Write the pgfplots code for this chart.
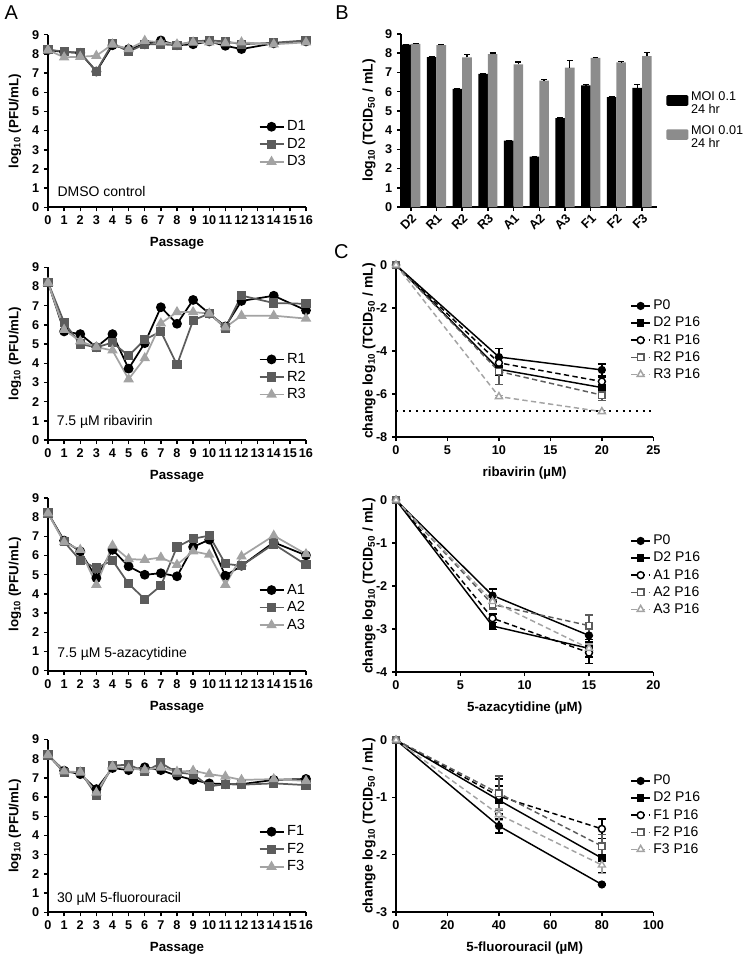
\documentclass[border=0pt]{standalone}
\usepackage{pgfplots}
\usepackage{pgfplotstable}
\pgfplotsset{compat=1.18}
\usepackage{fontspec}
\setmainfont{Liberation Sans}
\definecolor{dg}{gray}{0.36}
\definecolor{lg}{gray}{0.64}
\definecolor{bg}{gray}{0.55}

\pgfplotstableread{
x a b c
0 8.2 8.22 8.2
1 8.1 8.12 7.82
2 8.05 8.05 7.85
3 7.08 7.1 7.9
4 8.45 8.55 8.5
5 8.25 8.12 8.25
6 8.5 8.5 8.68
7 8.7 8.5 8.6
8 8.45 8.45 8.5
9 8.5 8.65 8.6
10 8.65 8.7 8.6
11 8.42 8.65 8.55
12 8.25 8.5 8.6
14 8.55 8.58 8.5
16 8.65 8.7 8.6
}\tabD
\pgfplotstableread{
x a b c
0 8.22 8.22 8.2
1 5.66 6.13 5.75
2 5.52 5.0 5.15
3 4.84 4.83 4.84
4 5.52 5.08 4.67
5 3.72 4.39 3.17
6 5.05 5.23 4.27
7 6.92 5.66 6.08
8 6.06 3.92 6.67
9 7.3 6.24 6.67
10 6.59 6.59 6.59
11 5.92 5.84 5.87
12 7.25 7.53 6.48
14 7.52 7.14 6.48
16 6.76 7.1 6.33
}\tabR
\pgfplotstableread{
x a b c
0 8.22 8.22 8.2
1 6.78 6.72 6.7
2 6.22 5.75 6.3
3 4.83 5.35 4.48
4 6.3 5.75 6.52
5 5.44 4.53 5.82
6 5.0 3.73 5.78
7 5.08 4.43 5.9
8 4.92 6.45 5.52
9 6.45 6.88 6.22
10 6.83 7.04 6.05
11 4.95 5.57 4.48
12 5.47 5.47 5.96
14 6.69 6.6 7.04
16 6.01 5.52 6.08
}\tabA
\pgfplotstableread{
x a b c
0 8.2 8.2 8.2
1 7.38 7.28 7.35
2 7.2 7.33 7.3
3 6.42 6.1 6.24
4 7.52 7.64 7.6
5 7.41 7.7 7.5
6 7.56 7.33 7.42
7 7.41 7.78 7.55
8 7.12 7.29 7.33
9 6.9 7.2 7.38
10 6.72 6.56 7.2
11 6.68 6.68 7.08
12 6.68 6.65 6.9
14 6.9 6.72 6.94
16 6.95 6.63 6.85
}\tabF
\pgfplotstableread{
i b be g ge
0 8.45 0.02 8.48 0.04
1 7.8 0.02 8.42 0.04
2 6.15 0.02 7.78 0.15
3 6.93 0.02 7.95 0.06
4 3.45 0.02 7.42 0.12
5 2.62 0.02 6.58 0.06
6 4.63 0.03 7.25 0.38
7 6.33 0.03 7.76 0.03
8 5.72 0.02 7.52 0.04
9 6.2 0.16 7.85 0.2
}\tabB

\tikzset{ann/.style={anchor=center, inner sep=0pt, font=\fontsize{10.5}{12}\selectfont}}
\pgfplotsset{
  base/.style={
    scale only axis, anchor=south west, clip=false,
    axis lines=left, axis line style={-, line width=1.3pt},
    tick align=outside, major tick length=3pt,
    tick style={black, line width=1.1pt},
    tick label style={font=\bfseries\fontsize{9.5}{10}\selectfont},
    /pgf/number format/assume math mode=true,
    label style={font=\bfseries\fontsize{10}{12}\selectfont},
    legend style={draw=none, fill=none, font=\fontsize{11}{13}\selectfont},
    legend cell align=left,
  },
  apanel/.style={base, width=193.5pt, height=129.5pt,
    xmin=0, xmax=16, ymin=0, ymax=9, xtick={0,...,16}, ytick={0,...,9},
    xlabel={Passage}, ylabel={log\textsubscript{10} (PFU/mL)},
    xlabel style={at={(axis description cs:0.5,-0.21)}, anchor=center},
    ylabel style={at={(axis description cs:-0.128,0.5)}, anchor=center},
    legend style={at={(axis description cs:0.80,0.365)}, anchor=west},
    legend image code/.code={\draw[mark repeat=2,mark phase=2,##1] plot coordinates {(0pt,0pt) (9pt,0pt) (18pt,0pt)};},
  },
  s1/.style={black, line width=1.3pt, mark=*, mark size=3pt},
  s2/.style={dg, line width=1.3pt, mark=square*, mark size=2.8pt},
  s3/.style={lg, line width=1.3pt, mark=triangle*, mark size=3.3pt},
  cpanel/.style={base, width=193pt, height=129pt,
    ylabel={change log\textsubscript{10} (TCID\textsubscript{50} / mL)},
    ylabel style={at={(axis description cs:-0.105,0.5)}, anchor=center, font=\bfseries\fontsize{10.5}{12}\selectfont},
    xlabel style={at={(axis description cs:0.5,-0.21)}, anchor=center},
    legend style={at={(axis description cs:0.895,0.563)}, anchor=west, font=\fontsize{10.5}{12}\selectfont},
    legend image code/.code={\draw[mark repeat=2,mark phase=2,##1] plot coordinates {(0pt,0pt) (7pt,0pt) (14pt,0pt)};},
  },
  cerr/.style={error bars/y dir=both, error bars/y explicit,
    error bars/error bar style={solid, line width=1.1pt},
    error bars/error mark options={rotate=90, mark size=3pt, solid, line width=1.1pt}},
  c1/.style={black, line width=1.1pt, mark=*, mark size=2.5pt, cerr},
  c2/.style={black, line width=1.1pt, mark=square*, mark size=2.3pt, cerr},
  c3/.style={black, line width=1.1pt, dash pattern=on 4pt off 2.5pt, mark=*, mark size=2.6pt, mark options={solid, fill=white}, cerr},
  c4/.style={dg, line width=1.1pt, dash pattern=on 4pt off 2.5pt, mark=square*, mark size=2.4pt, mark options={solid, fill=white}, cerr},
  c5/.style={lg, line width=1.1pt, dash pattern=on 4pt off 2.5pt, mark=triangle*, mark size=3pt, mark options={solid, fill=white}, cerr},
}

\begin{document}
\begin{tikzpicture}
\path[use as bounding box] (0,0) rectangle (562.5pt,-720pt);
\node[font=\fontsize{15}{15}\selectfont] at (8.5pt,-9.5pt) {A};
\node[font=\fontsize{15}{15}\selectfont] at (256.5pt,-9.5pt) {B};
\node[font=\fontsize{15}{15}\selectfont] at (256pt,-189pt) {C};

% A1 DMSO
\begin{axis}[apanel, at={(36pt,-155.5pt)}]
\addplot[s1] table[x=x,y=a] {\tabD}; \addlegendentry{D1}
\addplot[s2] table[x=x,y=b] {\tabD}; \addlegendentry{D2}
\addplot[s3] table[x=x,y=c] {\tabD}; \addlegendentry{D3}
\node[ann] at (axis cs:3.32,0.8) {DMSO control};
\end{axis}

% A2 ribavirin
\begin{axis}[apanel, at={(36pt,-330pt)}]
\addplot[s1] table[x=x,y=a] {\tabR}; \addlegendentry{R1}
\addplot[s2] table[x=x,y=b] {\tabR}; \addlegendentry{R2}
\addplot[s3] table[x=x,y=c] {\tabR}; \addlegendentry{R3}
\node[ann] at (axis cs:3.52,0.92) {7.5 µM ribavirin};
\end{axis}

% A3 azacytidine
\begin{axis}[apanel, at={(36pt,-503pt)}]
\addplot[s1] table[x=x,y=a] {\tabA}; \addlegendentry{A1}
\addplot[s2] table[x=x,y=b] {\tabA}; \addlegendentry{A2}
\addplot[s3] table[x=x,y=c] {\tabA}; \addlegendentry{A3}
\node[ann] at (axis cs:4.6,0.86) {7.5 µM 5-azacytidine};
\end{axis}

% A4 fluorouracil
\begin{axis}[apanel, at={(36pt,-684.2pt)}]
\addplot[s1] table[x=x,y=a] {\tabF}; \addlegendentry{F1}
\addplot[s2] table[x=x,y=b] {\tabF}; \addlegendentry{F2}
\addplot[s3] table[x=x,y=c] {\tabF}; \addlegendentry{F3}
\node[ann] at (axis cs:4.41,0.68) {30 µM 5-fluorouracil};
\end{axis}

% B bars
\begin{axis}[base, at={(300.75pt,-155.25pt)}, width=192pt, height=129.75pt,
  ybar=0pt, bar width=7.2pt, xmin=-0.38, xmax=9.58, ymin=0, ymax=9, ytick={0,...,9},
  xtick={0,...,9}, xticklabels={D2,R1,R2,R3,A1,A2,A3,F1,F2,F3},
  x tick label style={rotate=45, anchor=north east, inner sep=1pt},
  ylabel={log\textsubscript{10} (TCID\textsubscript{50} / mL)},
  ylabel style={at={(axis description cs:-0.125,0.5)}, anchor=center, font=\bfseries\fontsize{10.5}{12}\selectfont},
  legend style={at={(axis description cs:1.02,0.517)}, anchor=west, font=\fontsize{9.5}{9.8}\selectfont, row sep=8pt},
]
\addplot[fill=black, draw=none,
  legend image code/.code={\fill[black, rounded corners=1pt] (0pt,-4pt) rectangle (16.5pt,4pt);},
  error bars/y dir=plus, error bars/y explicit,
  error bars/error bar style={black, line width=1pt},
  error bars/error mark options={rotate=90, mark size=2.2pt, black, line width=1pt}]
  table[x=i, y=b, y error=be] {\tabB};
\addlegendentry{\begin{tabular}{@{}l@{}}MOI 0.1\\24 hr\end{tabular}}
\addplot[fill=bg, draw=none,
  legend image code/.code={\fill[bg, rounded corners=1pt] (0pt,-4pt) rectangle (16.5pt,4pt);},
  error bars/y dir=plus, error bars/y explicit,
  error bars/error bar style={black, line width=1pt},
  error bars/error mark options={rotate=90, mark size=2.2pt, black, line width=1pt}]
  table[x=i, y=g, y error=ge] {\tabB};
\addlegendentry{\begin{tabular}{@{}l@{}}MOI 0.01\\24 hr\end{tabular}}
\end{axis}

% C1 ribavirin
\begin{axis}[cpanel, at={(297pt,-327.75pt)}, xmin=0, xmax=25, ymin=-8, ymax=0,
  xtick={0,5,...,25}, ytick={-8,-6,...,0}, xlabel={ribavirin (µM)}]
\addplot[c1] table[x=x,y=y,y error=e] {
x y e
0 0 0
10 -4.28 0.4
20 -4.88 0.28
}; \addlegendentry{P0}
\addplot[c2] table[x=x,y=y,y error=e] {
x y e
0 0 0
10 -4.85 0.3
20 -5.7 0.5
}; \addlegendentry{D2 P16}
\addplot[c3] table[x=x,y=y,y error=e] {
x y e
0 0 0
10 -4.55 0.3
20 -5.42 0.25
}; \addlegendentry{R1 P16}
\addplot[c4] table[x=x,y=y,y error=e] {
x y e
0 0 0
10 -4.95 0.6
20 -6.05 0.25
}; \addlegendentry{R2 P16}
\addplot[c5] table[x=x,y=y,y error=e] {
x y e
0 0 0
10 -6.12 0.05
20 -6.82 0.05
}; \addlegendentry{R3 P16}
\addplot[forget plot, black, line width=1.4pt, dash pattern=on 1.5pt off 3.5pt] coordinates {(0,-6.8) (25,-6.8)};
\end{axis}

% C2 azacytidine
\begin{axis}[cpanel, at={(297pt,-504pt)}, xmin=0, xmax=20, ymin=-4, ymax=0,
  xtick={0,5,...,20}, ytick={-4,-3,...,0}, xlabel={5-azacytidine (µM)}]
\addplot[c1] table[x=x,y=y,y error=e] {
x y e
0 0 0
7.5 -2.22 0.15
15 -3.15 0.15
}; \addlegendentry{P0}
\addplot[c2] table[x=x,y=y,y error=e] {
x y e
0 0 0
7.5 -2.93 0.08
15 -3.45 0.2
}; \addlegendentry{D2 P16}
\addplot[c3] table[x=x,y=y,y error=e] {
x y e
0 0 0
7.5 -2.75 0.1
15 -3.55 0.25
}; \addlegendentry{A1 P16}
\addplot[c4] table[x=x,y=y,y error=e] {
x y e
0 0 0
7.5 -2.43 0.1
15 -2.92 0.25
}; \addlegendentry{A2 P16}
\addplot[c5] table[x=x,y=y,y error=e] {
x y e
0 0 0
7.5 -2.36 0.1
15 -3.45 0.1
}; \addlegendentry{A3 P16}
\end{axis}

% C3 fluorouracil
\begin{axis}[cpanel, at={(297pt,-684pt)}, xmin=0, xmax=100, ymin=-3, ymax=0,
  xtick={0,20,...,100}, ytick={-3,-2,...,0}, xlabel={5-fluorouracil (µM)}]
\addplot[c1] table[x=x,y=y,y error=e] {
x y e
0 0 0
40 -1.5 0.12
80 -2.52 0.02
}; \addlegendentry{P0}
\addplot[c2] table[x=x,y=y,y error=e] {
x y e
0 0 0
40 -1.05 0.25
80 -2.06 0.25
}; \addlegendentry{D2 P16}
\addplot[c3] table[x=x,y=y,y error=e] {
x y e
0 0 0
40 -0.98 0.3
80 -1.55 0.17
}; \addlegendentry{F1 P16}
\addplot[c4] table[x=x,y=y,y error=e] {
x y e
0 0 0
40 -0.93 0.3
80 -1.85 0.2
}; \addlegendentry{F2 P16}
\addplot[c5] table[x=x,y=y,y error=e] {
x y e
0 0 0
40 -1.3 0.1
80 -2.18 0.15
}; \addlegendentry{F3 P16}
\end{axis}
\end{tikzpicture}
\end{document}
